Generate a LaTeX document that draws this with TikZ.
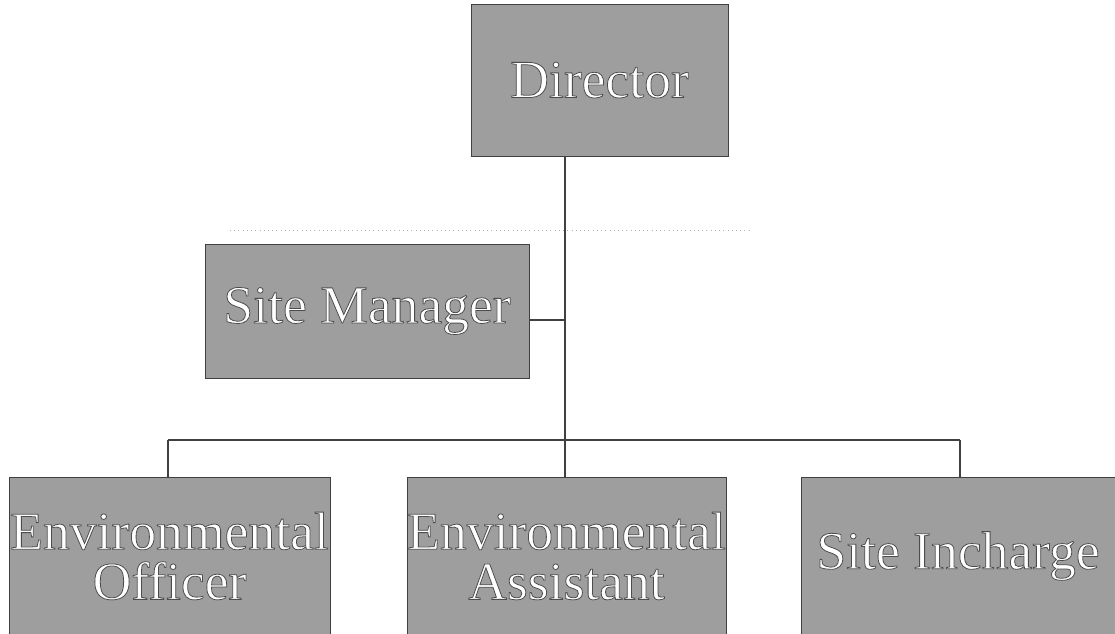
\documentclass[tikz,border=0pt]{standalone}
\usepackage {fontspec}
\setmainfont {Liberation Serif}
\usetikzlibrary {shapes.geometric, arrows}
\tikzstyle {post} = [draw=black!75, fill=black!38, inner sep=0pt, align=center, text=white, font=\fontsize{30.5}{28.5}\selectfont]
\tikzstyle {link} = [line width=1.3pt, draw=black!75]
\newcommand {\rimtext}[1]{\special{pdf:literal 2 Tr 0.45 w 0.3 G}#1\special{pdf:literal 0 Tr}}
\begin{document}
\begin{tikzpicture}[x=0.02cm, y=-0.02cm]
      \useasboundingbox (0,0) rectangle (1115,634);
      \node [post, minimum width=257*0.02cm, minimum height=152*0.02cm] (dir) at (599.5,80) {\rimtext{Director}};
      \node [post, minimum width=324*0.02cm, minimum height=134*0.02cm] (sm) at (367,311) {\rimtext{Site Manager}};
      \node [post, minimum width=321*0.02cm, minimum height=157*0.02cm] (eo) at (169.5,556) {\rimtext{Environmental}\\\rimtext{Officer}};
      \node [post, minimum width=319*0.02cm, minimum height=157*0.02cm] (ea) at (566.5,556) {\rimtext{Environmental}\\\rimtext{Assistant}};
      \node [post, minimum width=314*0.02cm, minimum height=157*0.02cm] (si) at (958,556) {\rimtext{Site Incharge}};
      \coordinate (bus) at (565,440);
      \coordinate (busl) at (168,440);
      \coordinate (busr) at (960,440);
      \draw [link] (dir.south -| bus) -- (bus);
      \draw [link] (busl) -- (busr);
      \draw [link] (busl) -- (busl |- eo.north);
      \draw [link] (bus) -- (bus |- ea.north);
      \draw [link] (busr) -- (busr |- si.north);
      \draw [link] (sm.east |- 0,320) -- (bus |- 0,320);
      \draw [black!30, dotted] (230,230) -- (750,230);
    \end{tikzpicture}
\end{document}
